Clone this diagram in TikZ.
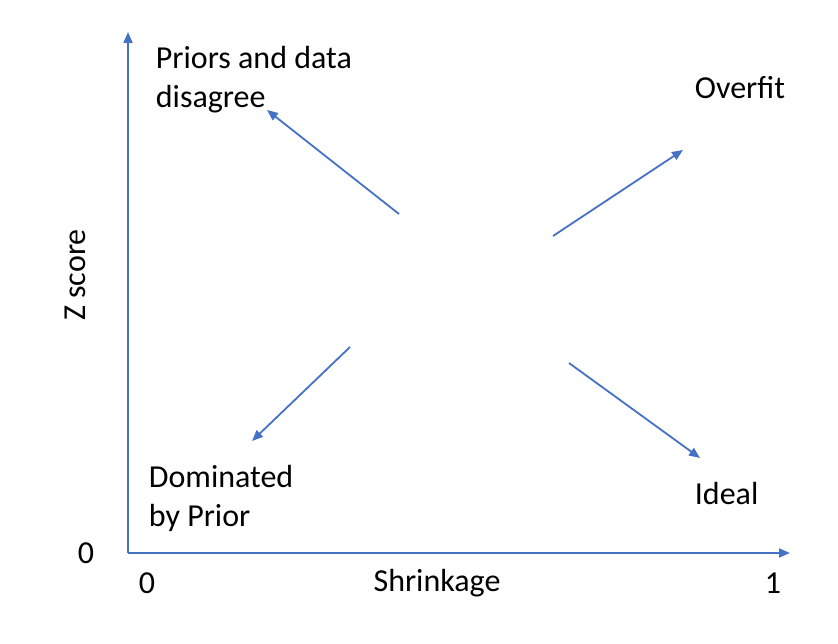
\documentclass[tikz,border=0pt]{standalone}
\usepackage{fontspec}
\setmainfont{Carlito}
\usetikzlibrary{arrows.meta}
\definecolor{officeblue}{RGB}{68,114,196}

\begin{document}
\begin{tikzpicture}[x=1pt,y=-1pt,->,>={Triangle[length=11pt,width=9pt]},
                    line width=1.8pt,draw=officeblue,
                    font=\fontsize{32}{39}\selectfont]
  \tikzstyle{every node}=[inner sep=0pt,text=black]
  \tikzstyle{quadrant}=[align=left,anchor=north west]

  \useasboundingbox (0,0) rectangle (838,644);

  % axes
  \coordinate (O)    at (128,553);
  \coordinate (Ytop) at (128,32);
  \coordinate (Xend) at (790,553);
  \draw (O) -- (Ytop);
  \draw (O) -- (Xend);

  \node (yzero)  at (86,553)  {0};
  \node (xzero)  at (147,583) {0};
  \node (xone)   at (773,583) {1};
  \node (xlabel) at (437,583) {Shrinkage};
  \node[rotate=90] (ylabel) at (75,275) {Z score};

  % quadrant labels
  \node[quadrant] (disagree)  at (155,45)  {Priors and data\\disagree};
  \node[quadrant] (overfit)   at (694,75)  {Overfit};
  \node[quadrant] (dominated) at (148,464) {Dominated\\by Prior};
  \node[quadrant] (ideal)     at (694,481) {Ideal};

  % arrows from the centre
  \coordinate (ulS) at (399,214); \coordinate (ulE) at (267,110);
  \coordinate (urS) at (553,236); \coordinate (urE) at (683,150);
  \coordinate (llS) at (350,347); \coordinate (llE) at (252,441);
  \coordinate (lrS) at (569,363); \coordinate (lrE) at (700,458);

  \path (ulS) edge (ulE)
        (urS) edge (urE)
        (llS) edge (llE)
        (lrS) edge (lrE);
\end{tikzpicture}
\end{document}
